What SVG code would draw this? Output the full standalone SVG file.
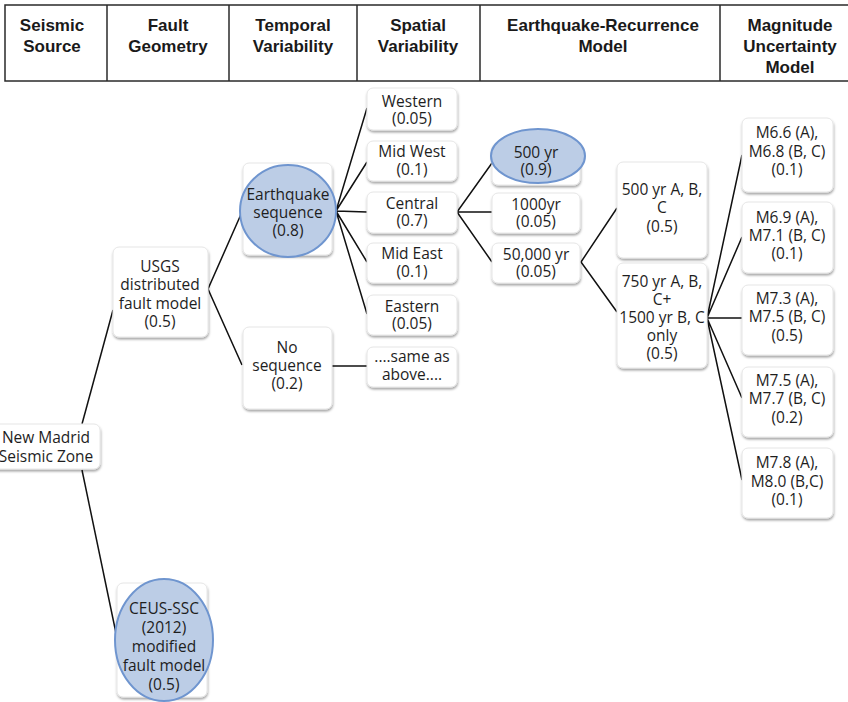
<svg xmlns="http://www.w3.org/2000/svg" width="848" height="702" viewBox="0 0 848 702">
<defs>
<filter id="sh" x="-10%" y="-10%" width="125%" height="130%">
<feDropShadow dx="0.5" dy="2" stdDeviation="1.3" flood-color="#000" flood-opacity="0.35"/>
</filter>
<style>
.hd{font-family:"Liberation Sans",Arial,sans-serif;font-weight:bold;font-size:17px;fill:#1a1a1a;text-anchor:middle}
.hl{stroke:#2a2a2a;stroke-width:1.5;fill:none}
.box{fill:#fff;stroke:#e6e6e6;stroke-width:1;filter:url(#sh)}
.hi{fill:#bccde6;stroke:#6f95cf;stroke-width:2}
.t{font-family:"Open Sans","Noto Sans",sans-serif;font-size:15.5px;fill:#1e1e1e;text-anchor:middle}
.c{stroke:#111;stroke-width:1.5;fill:none}
</style>
</defs>
<rect width="848" height="702" fill="#fff"/>
<g id="header">
<rect class="hl" x="5" y="5" width="850" height="76"/>
<line class="hl" x1="107" y1="5" x2="107" y2="81"/>
<line class="hl" x1="229" y1="5" x2="229" y2="81"/>
<line class="hl" x1="357" y1="5" x2="357" y2="81"/>
<line class="hl" x1="480" y1="5" x2="480" y2="81"/>
<line class="hl" x1="720" y1="5" x2="720" y2="81"/>
<text class="hd" x="52" y="31">Seismic</text><text class="hd" x="52" y="52">Source</text>
<text class="hd" x="168" y="31">Fault</text><text class="hd" x="168" y="52">Geometry</text>
<text class="hd" x="293" y="31">Temporal</text><text class="hd" x="293" y="52">Variability</text>
<text class="hd" x="418" y="31">Spatial</text><text class="hd" x="418" y="52">Variability</text>
<text class="hd" x="603" y="31">Earthquake-Recurrence</text><text class="hd" x="603" y="52">Model</text>
<text class="hd" x="790" y="31">Magnitude</text><text class="hd" x="790" y="52">Uncertainty</text><text class="hd" x="790" y="73">Model</text>
</g>
<g id="connectors">
<path class="c" d="M82,424 L113,310"/>
<path class="c" d="M82,470 L117,638"/>
<path class="c" d="M242,212 L208,289 L242,365"/>
<path class="c" d="M367,108 L336,211 L367,162 M336,211 L367,212 M336,211 L367,262 M336,211 L367,314"/>
<path class="c" d="M332,366 L367,366"/>
<path class="c" d="M492,163 L457,212 L492,262 M457,212 L492,212"/>
<path class="c" d="M617,208 L581,262 L617,312"/>
<path class="c" d="M742,155 L707,318 L742,237 M707,318 L742,318 M707,318 L742,398 M707,318 L742,480"/>
</g>
<g id="new-madrid">
<rect class="box" x="-8" y="424" width="108" height="45" rx="6"/>
<text class="t" x="46" y="443">New Madrid</text><text class="t" x="46" y="462">Seismic Zone</text>
</g>
<g id="usgs">
<rect class="box" x="113" y="247" width="95" height="90" rx="6"/>
<text class="t" x="160" y="272">USGS</text><text class="t" x="160" y="290">distributed</text><text class="t" x="160" y="309">fault model</text><text class="t" x="160" y="327">(0.5)</text>
</g>
<g id="eq-sequence">
<rect class="box" x="243" y="163" width="89" height="92" rx="6"/>
<ellipse class="hi" cx="288" cy="211" rx="48" ry="46"/>
<text class="t" x="288" y="200">Earthquake</text><text class="t" x="288" y="218">sequence</text><text class="t" x="288" y="236">(0.8)</text>
</g>
<g id="no-sequence">
<rect class="box" x="243" y="327" width="89" height="82" rx="6"/>
<text class="t" x="287" y="353">No</text><text class="t" x="287" y="371">sequence</text><text class="t" x="287" y="389">(0.2)</text>
</g>
<g id="western">
<rect class="box" x="367" y="88" width="90" height="42" rx="6"/>
<text class="t" x="412" y="107">Western</text><text class="t" x="412" y="124">(0.05)</text>
</g>
<g id="mid-west">
<rect class="box" x="367" y="141" width="90" height="40" rx="6"/>
<text class="t" x="412" y="157">Mid West</text><text class="t" x="412" y="175">(0.1)</text>
</g>
<g id="central">
<rect class="box" x="367" y="192" width="90" height="41" rx="6"/>
<text class="t" x="412" y="209">Central</text><text class="t" x="412" y="226">(0.7)</text>
</g>
<g id="mid-east">
<rect class="box" x="367" y="243" width="90" height="40" rx="6"/>
<text class="t" x="412" y="259">Mid East</text><text class="t" x="412" y="277">(0.1)</text>
</g>
<g id="eastern">
<rect class="box" x="367" y="295" width="90" height="40" rx="6"/>
<text class="t" x="412" y="312">Eastern</text><text class="t" x="412" y="329">(0.05)</text>
</g>
<g id="same-as-above">
<rect class="box" x="367" y="347" width="90" height="40" rx="6"/>
<text class="t" x="412" y="362">....same as</text><text class="t" x="412" y="380">above....</text>
</g>
<g id="r500">
<rect class="box" x="492" y="143" width="88" height="42" rx="6"/>
<ellipse class="hi" cx="538" cy="156" rx="47" ry="27"/>
<text class="t" x="536" y="158">500 yr</text><text class="t" x="536" y="175">(0.9)</text>
</g>
<g id="r1000">
<rect class="box" x="492" y="193" width="88" height="40" rx="6"/>
<text class="t" x="536" y="210">1000yr</text><text class="t" x="536" y="227">(0.05)</text>
</g>
<g id="r50000">
<rect class="box" x="492" y="243" width="88" height="40" rx="6"/>
<text class="t" x="536" y="260">50,000 yr</text><text class="t" x="536" y="277">(0.05)</text>
</g>
<g id="a500">
<rect class="box" x="617" y="162" width="90" height="96" rx="6"/>
<text class="t" x="662" y="195">500 yr A, B,</text><text class="t" x="662" y="213">C</text><text class="t" x="662" y="232">(0.5)</text>
</g>
<g id="a750">
<rect class="box" x="617" y="263" width="90" height="105" rx="6"/>
<text class="t" x="662" y="287">750 yr A, B,</text><text class="t" x="662" y="305">C+</text><text class="t" x="662" y="323">1500 yr B, C</text><text class="t" x="662" y="341">only</text><text class="t" x="662" y="359">(0.5)</text>
</g>
<g id="m1">
<rect class="box" x="742" y="118" width="91" height="74" rx="6"/>
<text class="t" x="787" y="138">M6.6 (A),</text><text class="t" x="787" y="157">M6.8 (B, C)</text><text class="t" x="787" y="175">(0.1)</text>
</g>
<g id="m2">
<rect class="box" x="742" y="202" width="91" height="71" rx="6"/>
<text class="t" x="787" y="223">M6.9 (A),</text><text class="t" x="787" y="241">M7.1 (B, C)</text><text class="t" x="787" y="259">(0.1)</text>
</g>
<g id="m3">
<rect class="box" x="742" y="285" width="91" height="70" rx="6"/>
<text class="t" x="787" y="304">M7.3 (A),</text><text class="t" x="787" y="322">M7.5 (B, C)</text><text class="t" x="787" y="341">(0.5)</text>
</g>
<g id="m4">
<rect class="box" x="742" y="367" width="91" height="70" rx="6"/>
<text class="t" x="787" y="386">M7.5 (A),</text><text class="t" x="787" y="404">M7.7 (B, C)</text><text class="t" x="787" y="423">(0.2)</text>
</g>
<g id="m5">
<rect class="box" x="742" y="448" width="91" height="70" rx="6"/>
<text class="t" x="787" y="468">M7.8 (A),</text><text class="t" x="787" y="487">M8.0 (B,C)</text><text class="t" x="787" y="505">(0.1)</text>
</g>
<g id="ceus">
<rect class="box" x="117" y="583" width="90" height="114" rx="6"/>
<ellipse class="hi" cx="164" cy="640" rx="49" ry="61"/>
<text class="t" x="164" y="614">CEUS-SSC</text><text class="t" x="164" y="633">(2012)</text><text class="t" x="164" y="652">modified</text><text class="t" x="164" y="671">fault model</text><text class="t" x="164" y="690">(0.5)</text>
</g>
</svg>
